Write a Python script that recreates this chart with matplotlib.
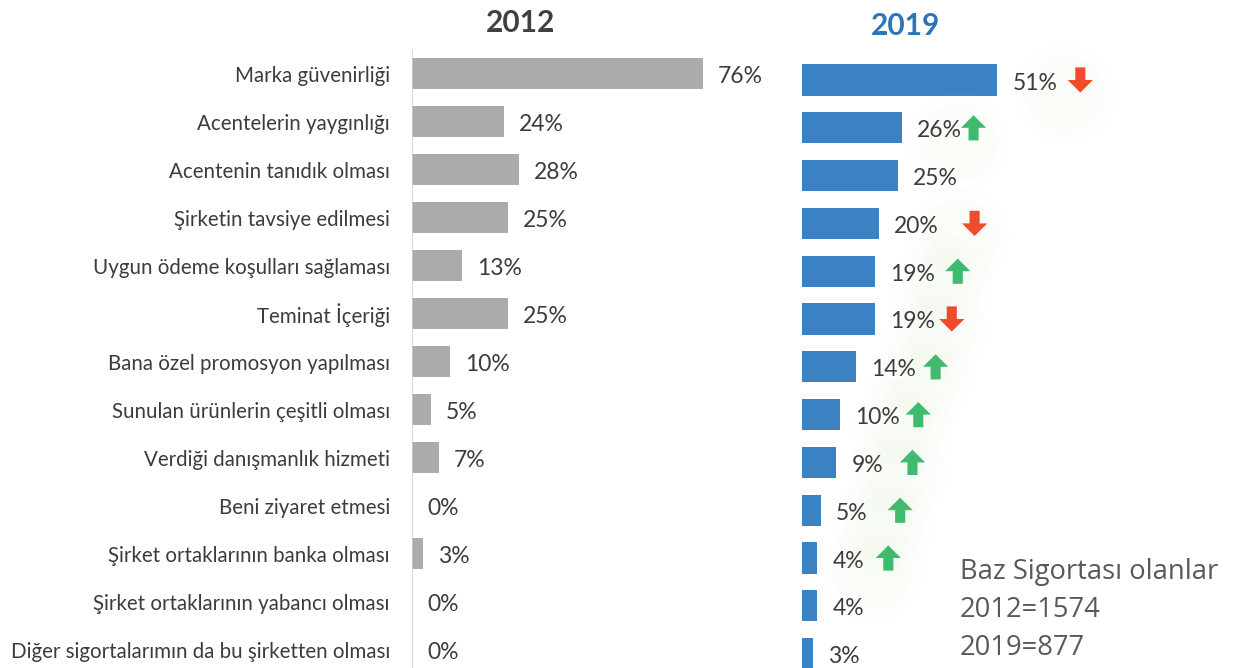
import matplotlib
matplotlib.use('Agg')
from matplotlib import pyplot as plt
from matplotlib.path import Path

# --- data ---
labels = ['Marka güvenirliği', 'Acentelerin yaygınlığı', 'Acentenin tanıdık olması',
          'Şirketin tavsiye edilmesi', 'Uygun ödeme koşulları sağlaması', 'Teminat İçeriği',
          'Bana özel promosyon yapılması', 'Sunulan ürünlerin çeşitli olması',
          'Verdiği danışmanlık hizmeti', 'Beni ziyaret etmesi',
          'Şirket ortaklarının banka olması', 'Şirket ortaklarının yabancı olması',
          'Diğer sigortalarımın da bu şirketten olması']
vals_2012 = [76, 24, 28, 25, 13, 25, 10, 5, 7, 0, 3, 0, 0]
vals_2019 = [51, 26, 25, 20, 19, 19, 14, 10, 9, 5, 4, 4, 3]
trend = ['down', 'up', None, 'down', 'up', 'down', 'up', 'up', 'up', 'up', 'up', None, None]
arrow_dx = [83, 72, 0, 96, 83, 77, 80, 78, 76, 79, 71, 0, 0]  # px from bar end
base_note = ['Baz Sigortası olanlar', '2012=1574', '2019=877']

W, H = 1235, 668
PX = 3.83  # pixels per percent
TXT = '#3c3c3c'
GRAY = '#ababab'
BLUE = '#3a82c4'
RED = '#ef4b2d'
GREEN = '#3fba6e'
FONT = 'Lato'

fig = plt.figure(figsize=(W / 100, H / 100), dpi=100)

# left panel (2012)
x0, x1 = 412, 780
axL = fig.add_axes([x0 / W, 0, (x1 - x0) / W, 1])
axL.set_xlim(0, (x1 - x0) / PX)
axL.set_ylim((H - 73.5) / 48, -73.5 / 48)
rows = list(range(len(labels)))
axL.barh(rows, vals_2012, height=0.65, color=GRAY)
axL.axvline(0, ymin=0, ymax=(H - 50) / H, color='#d0d0d0', lw=1.2)
axL.set_yticks(rows)
axL.set_yticklabels(labels, fontsize=14.8, color=TXT, family=FONT)
axL.tick_params(axis='y', length=0, pad=16)
axL.set_xticks([])
for s in axL.spines.values():
    s.set_visible(False)
for r, v in zip(rows, vals_2012):
    axL.annotate('%d%%' % v, (v, r), xytext=(15, -3), textcoords='offset pixels',
                 ha='left', va='center', fontsize=16.5, color=TXT, family=FONT)
fig.text(521 / W, 1 - 23 / H, '2012', ha='center', va='center', fontsize=21.5,
         fontweight='bold', color='#404040', family=FONT)

# right panel (2019)
x0, x1 = 802, 1235
axR = fig.add_axes([x0 / W, 0, (x1 - x0) / W, 1])
axR.set_xlim(0, (x1 - x0) / PX)
sp = 47.8
axR.set_ylim((H - 80) / sp, -80 / sp)
axR.barh(rows, vals_2019, height=0.65, color=BLUE)
axR.set_xticks([])
axR.set_yticks([])
for s in axR.spines.values():
    s.set_visible(False)

# block arrow marker shapes
up_verts = [(-0.2, -0.5), (0.2, -0.5), (0.2, 0.0), (0.5, 0.0), (0.0, 0.5),
            (-0.5, 0.0), (-0.2, 0.0), (-0.2, -0.5)]
up_arrow = Path(up_verts, closed=True)
down_arrow = Path([(x, -y) for x, y in up_verts], closed=True)

for r, v, t, dx in zip(rows, vals_2019, trend, arrow_dx):
    axR.annotate('%d%%' % v, (v, r), xytext=(15, -3), textcoords='offset pixels',
                 ha='left', va='center', fontsize=16.5, color=TXT, family=FONT)
    if t is None:
        continue
    ax_pos = v + dx / PX
    # soft glow behind arrow
    for s, a in [(5200, 0.03), (3200, 0.04), (1800, 0.05)]:
        axR.scatter([ax_pos - 4], [r + 0.3], s=s, color='#dcebc4', alpha=a,
                    edgecolors='none', zorder=1)
    axR.scatter([ax_pos], [r], marker=up_arrow if t == 'up' else down_arrow,
                s=330, color=GREEN if t == 'up' else RED, edgecolors='none', zorder=3)

fig.text(905 / W, 1 - 26 / H, '2019', ha='center', va='center', fontsize=21.5,
         fontweight='bold', color='#2e75b6', family=FONT)

for i, line in enumerate(base_note):
    fig.text(960 / W, 1 - (572 + 38 * i) / H, line, ha='left', va='center',
             fontsize=19.7, color='#595959', family='Open Sans')

plt.savefig('out.png', dpi=100)
